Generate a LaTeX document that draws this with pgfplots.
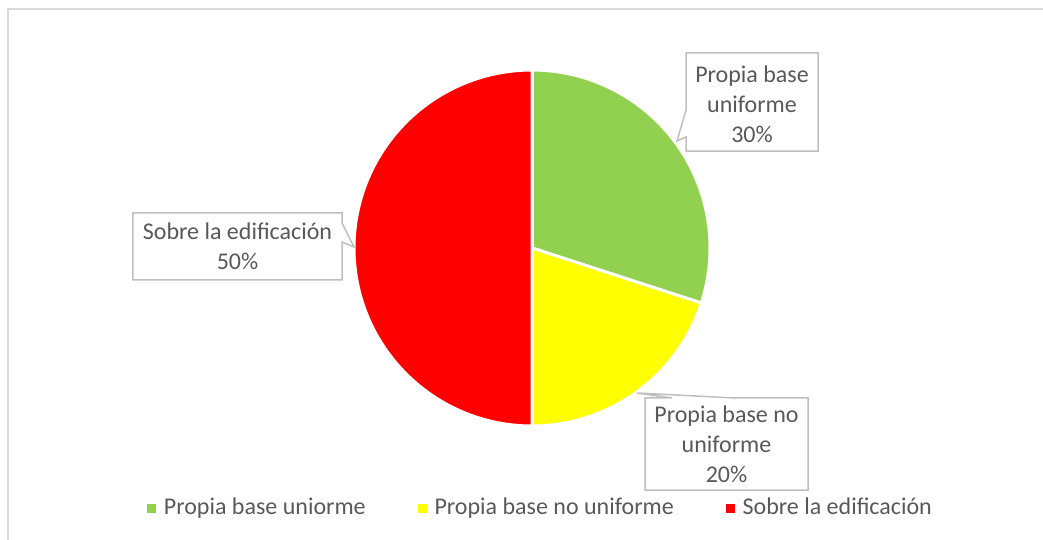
\documentclass[border=0pt]{standalone}
\usepackage{pgfplots}
\pgfplotsset{compat=1.18}
\usepackage{pgfplotstable}
\usepackage{fontspec}
\setmainfont{Carlito}
\definecolor{pgreen}{HTML}{92D050}
\definecolor{pyellow}{HTML}{FFFF00}
\definecolor{pred}{HTML}{FF0000}
\definecolor{txtgray}{HTML}{595959}
\definecolor{boxgray}{HTML}{BFBFBF}
\definecolor{framegray}{HTML}{D9D9D9}

\pgfplotstableread[col sep=comma]{
name,value
Propia base uniorme,30
Propia base no uniforme,20
Sobre la edificación,50
}\piedata

\begin{document}%
\pgfplotstablegetelem{0}{value}\of\piedata\edef\vA{\pgfplotsretval}%
\pgfplotstablegetelem{1}{value}\of\piedata\edef\vB{\pgfplotsretval}%
\pgfplotstablegetelem{2}{value}\of\piedata\edef\vC{\pgfplotsretval}%
\pgfmathsetmacro\aA{90}%
\pgfmathsetmacro\aB{\aA-3.6*\vA}%
\pgfmathsetmacro\aC{\aB-3.6*\vB}%
\pgfmathsetmacro\aD{\aC-3.6*\vC}%
\begin{tikzpicture}[lbl/.style={align=center, font=\fontsize{12bp}{15bp}\selectfont, text=txtgray, inner sep=0pt},
  callout/.style={fill=white, draw=boxgray, line width=0.75bp, line join=miter}]
\begin{axis}[name=ax, at={(0,0)}, anchor=south west,
  width=521.5bp, height=270bp, scale only axis,
  xmin=-2.98876, xmax=2.87079, ymin=-1.64045, ymax=1.39326,
  hide axis, clip=false,
  legend columns=3,
  legend image code/.code={\fill[#1] (0bp,-2bp) rectangle (4bp,2bp);},
  legend style={at={(axis cs:0.0534,-1.4607)}, anchor=center, draw=none, fill=none,
    font=\fontsize{12bp}{15bp}\selectfont, text=txtgray,
    nodes={inner xsep=2bp, inner ysep=0pt},
    /tikz/every odd column/.append style={column sep=2bp},
    /tikz/every even column/.append style={column sep=24bp}},
]
% frame
\draw[framegray, line width=0.75bp] (axis cs:-2.9438,-1.70) -- (axis cs:-2.9438,1.3427) -- (axis cs:2.95,1.3427);
% slices
\fill[pgreen, draw=white, line width=1.5bp] (axis cs:0,0) -- (axis cs:{cos(\aA)},{sin(\aA)}) arc[start angle=\aA, end angle=\aB, radius=89bp] -- cycle;
\fill[pyellow, draw=white, line width=1.5bp] (axis cs:0,0) -- (axis cs:{cos(\aB)},{sin(\aB)}) arc[start angle=\aB, end angle=\aC, radius=89bp] -- cycle;
\fill[pred, draw=white, line width=1.5bp] (axis cs:0,0) -- (axis cs:{cos(\aC)},{sin(\aC)}) arc[start angle=\aC, end angle=\aD, radius=89bp] -- cycle;
% callout 1
\draw[callout] (axis cs:0.8652,1.0955) -- (axis cs:1.6067,1.0955) -- (axis cs:1.6067,0.5449) -- (axis cs:0.8652,0.5449)
  -- (axis cs:0.8652,0.6236) -- (axis cs:0.8146,0.6011) -- (axis cs:0.8652,0.7753) -- cycle;
\node[lbl] at (axis cs:1.2360,0.8090) {Propia base\\uniforme\\\vA\%};
% callout 2
\draw[callout] (axis cs:-2.2416,0.1966) -- (axis cs:-1.0674,0.1966) -- (axis cs:-1.0674,0.1404) -- (axis cs:-1.0000,0.0056)
  -- (axis cs:-1.0674,0.0337) -- (axis cs:-1.0674,-0.1798) -- (axis cs:-2.2416,-0.1798) -- cycle;
\node[lbl] at (axis cs:-1.6545,0.0084) {Sobre la edificación\\\vC\%};
% callout 3
\draw[callout] (axis cs:0.6348,-0.8427) -- (axis cs:0.7865,-0.8427) -- (axis cs:0.5899,-0.8146) -- (axis cs:1.1404,-0.8427)
  -- (axis cs:1.5506,-0.8427) -- (axis cs:1.5506,-1.3596) -- (axis cs:0.6348,-1.3596) -- cycle;
\node[lbl] at (axis cs:1.0927,-1.1039) {Propia base no\\uniforme\\\vB\%};
% legend
\addlegendimage{pgreen}\addlegendentry{Propia base uniorme}
\addlegendimage{pyellow}\addlegendentry{Propia base no uniforme}
\addlegendimage{pred}\addlegendentry{Sobre la edificación}
\end{axis}
\pgfresetboundingbox
\useasboundingbox (ax.south west) rectangle (ax.north east);
\end{tikzpicture}%
\end{document}
